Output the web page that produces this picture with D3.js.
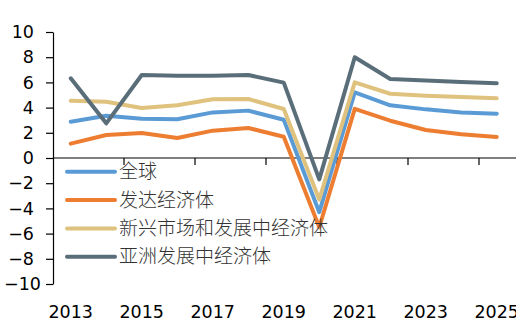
<!DOCTYPE html>
<html>
<head>
<meta charset="utf-8">
<script src="https://cdn.jsdelivr.net/npm/d3@7"></script>
<style>
  body { margin: 0; background: #fff; }
  svg { display: block; }
</style>
</head>
<body>
<div id="canvas"></div>
<script>
// GDP growth, %
const years = [2013, 2014, 2015, 2016, 2017, 2018, 2019, 2020, 2021, 2022, 2023, 2024, 2025];
const world = [2.88, 3.36, 3.12, 3.07, 3.62, 3.76, 3.04, -4.3, 5.2, 4.18, 3.86, 3.62, 3.52];
const advanced = [1.14, 1.83, 1.98, 1.59, 2.17, 2.38, 1.69, -5.5, 3.9, 2.96, 2.22, 1.88, 1.67];
const emerging = [4.55, 4.47, 3.97, 4.18, 4.66, 4.68, 3.89, -3.3, 6.0, 5.1, 4.95, 4.84, 4.74];
const asia = [6.33, 2.75, 6.59, 6.53, 6.53, 6.59, 5.98, -1.7, 8.0, 6.27, 6.16, 6.03, 5.93];

const seriesNames = ["全球", "发达经济体", "新兴市场和发展中经济体", "亚洲发展中经济体"];
const seriesColors = ["#5b9bd5", "#ed7d31", "#dfc27d", "#5a6e7a"];
const yTicks = [-10, -8, -6, -4, -2, 0, 2, 4, 6, 8, 10];
const xLabels = [2013, 2015, 2017, 2019, 2021, 2023, 2025];

const dims = { width: 516, height: 328 };
const plot = { left: 53, right: 514.5, top: 32, bottom: 284 };
const numFont = "'DejaVu Sans', Verdana, sans-serif";
const cjkFont = "'Noto Sans CJK SC', 'Noto Sans', sans-serif";

const svg = d3
  .select("#canvas")
  .append("svg")
  .attr("width", dims.width)
  .attr("height", dims.height)
  .style("background-color", "#fff");

const xScale = d3.scaleBand().domain(years).range([plot.left, plot.right]).padding(0);
const yScale = d3.scaleLinear().domain([-10, 10]).range([plot.bottom, plot.top]);
const bw = xScale.bandwidth();

// Y axis
const yAxis = d3
  .axisLeft(yScale)
  .tickValues(yTicks)
  .tickSize(7)
  .tickSizeOuter(0)
  .tickPadding(12);

const yAxisGroup = svg
  .append("g")
  .attr("transform", `translate(${plot.left},0)`)
  .call(yAxis);

yAxisGroup.select(".domain").attr("stroke", "#000").attr("stroke-width", 1.2);
yAxisGroup.selectAll(".tick line").attr("stroke", "#000").attr("stroke-width", 1.2);
yAxisGroup
  .selectAll("text")
  .attr("fill", "#000")
  .style("font-family", numFont)
  .style("font-size", "17.5px");

// keep labels inside the left edge
yAxisGroup.selectAll("text").each(function() {
  const b = this.getBBox();
  const left = plot.left + b.x;
  if (left < 4) {
    d3.select(this).attr("x", +d3.select(this).attr("x") + (4 - left));
  }
});

// X axis at zero
const zeroY = yScale(0);
const xAxisGroup = svg.append("g");
xAxisGroup
  .append("line")
  .attr("x1", plot.left)
  .attr("x2", dims.width)
  .attr("y1", zeroY)
  .attr("y2", zeroY)
  .attr("stroke", "#000")
  .attr("stroke-width", 1.2);

xAxisGroup
  .selectAll(".xtick")
  .data(xLabels.slice(1))
  .enter()
  .append("line")
  .attr("class", "xtick")
  .attr("x1", d => xScale(d))
  .attr("x2", d => xScale(d))
  .attr("y1", zeroY)
  .attr("y2", zeroY + 7)
  .attr("stroke", "#000")
  .attr("stroke-width", 1.2);

xAxisGroup
  .selectAll(".xlabel")
  .data(xLabels)
  .enter()
  .append("text")
  .attr("class", "xlabel")
  .attr("x", d => xScale(d) + bw / 2)
  .attr("y", 318)
  .attr("text-anchor", "middle")
  .attr("fill", "#000")
  .style("font-family", numFont)
  .style("font-size", "17.5px")
  .text(d => d);

// Lines
const series = [world, advanced, emerging, asia];
const lineGen = d3
  .line()
  .x((d, i) => xScale(years[i]) + bw / 2)
  .y(d => yScale(d));

svg
  .append("g")
  .selectAll("path")
  .data(series)
  .enter()
  .append("path")
  .attr("d", lineGen)
  .attr("fill", "none")
  .attr("stroke", (d, i) => seriesColors[i])
  .attr("stroke-width", 4)
  .attr("stroke-linejoin", "round")
  .attr("stroke-linecap", "round");

// Legend
const legendGroup = svg.append("g").attr("transform", "translate(67,171.7)");
const rows = legendGroup
  .selectAll("g")
  .data(seriesNames)
  .enter()
  .append("g")
  .attr("transform", (d, i) => `translate(0,${i * 28.35})`);

rows
  .append("line")
  .attr("x1", 0)
  .attr("x2", 48)
  .attr("stroke", (d, i) => seriesColors[i])
  .attr("stroke-width", 4)
  .attr("stroke-linecap", "round");

rows
  .append("text")
  .attr("x", 52)
  .attr("dy", "0.35em")
  .attr("fill", "#333")
  .style("font-family", cjkFont)
  .style("font-weight", 300)
  .style("font-size", "19px")
  .text(d => d);
</script>
</body>
</html>
